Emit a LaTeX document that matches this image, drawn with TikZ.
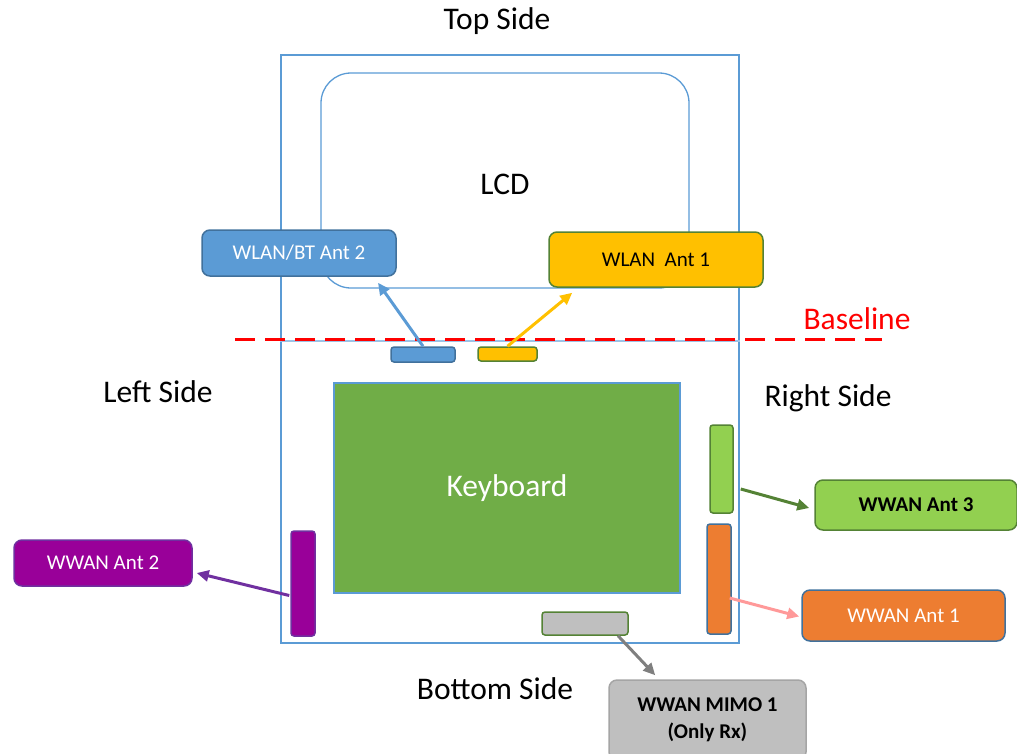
\documentclass[tikz,border=0pt]{standalone}
\usepackage{fontspec}
\setmainfont{Carlito}
\usetikzlibrary{shapes}
\usetikzlibrary{arrows.meta}
\usetikzlibrary{calc}
\definecolor{msblue}{HTML}{5B9BD5}
\definecolor{msdblue}{HTML}{41719C}
\definecolor{ltblue}{HTML}{9DC3E6}
\definecolor{kbgreen}{HTML}{70AD47}
\definecolor{dkgreen}{HTML}{548235}
\definecolor{ltgreen}{HTML}{92D050}
\definecolor{msyellow}{HTML}{FFC000}
\definecolor{mspurple}{HTML}{990099}
\definecolor{violet}{HTML}{7030A0}
\definecolor{msorange}{HTML}{ED7D31}
\definecolor{msgray}{HTML}{BFBFBF}
\definecolor{dkgray}{HTML}{7F7F7F}
\definecolor{pink}{HTML}{FF9999}
\tikzset{
	ant_box/.style = {rectangle, rounded corners=8pt, line width=1.5pt,
		inner sep=0pt, align=center, font=\fontsize{21}{27}\selectfont},
	ant_bar/.style = {rectangle, rounded corners=3pt, line width=1.5pt,
		inner sep=0pt},% antenne sur le chassis
	side_lbl/.style = {inner sep=0pt, font=\fontsize{31.5}{36}\selectfont},
	link/.style = {->, line width=3pt},
	base_line/.style = {red, line width=3pt, dash pattern=on 20pt off 10pt}
}
\begin{document}
\begin{tikzpicture}[x=1pt,y=-1pt,>={Triangle[length=12pt,width=11pt]}]
	\useasboundingbox (0,0) rectangle (1017,753);
	% chassis et ecran
	\node[draw=msblue, line width=1.3pt, inner sep=0pt,
		minimum width=458, minimum height=588] (frame) at (510,349) {};
	\node[draw=msblue, line width=1.3pt, rounded corners=30pt, inner sep=0pt,
		minimum width=368, minimum height=215] (lcd) at (505,180.5) {};
	\node[side_lbl] (lcdtxt) at (505,184) {LCD};
	\coordinate (hinge) at (0,341);
	\draw[ltblue, line width=1.5pt] (frame.west |- hinge) -- (frame.east |- hinge);
	\node[draw=msblue, fill=kbgreen, line width=1.5pt, inner sep=0pt,
		minimum width=346, minimum height=210, text=white,
		font=\fontsize{31.5}{36}\selectfont] (kbd) at (507,488) {Keyboard};
	% cotes
	\node[side_lbl] (top) at (497,21) {Top Side};
	\node[side_lbl] (left) at (158,392) {Left Side};
	\node[side_lbl] (right) at (828,398) {Right Side};
	\node[side_lbl] (bottom) at (495,689) {Bottom Side};
	\node[side_lbl, text=red] (base) at (857,319) {Baseline};
	\coordinate (baseL) at (235,339);
	\coordinate (baseR) at (882,339);
	\draw[base_line] (baseL) -- (baseR);
	% antennes
	\node[ant_bar, fill=msblue, draw=msdblue, minimum width=64, minimum height=15] (antBT) at (423,354.5) {};
	\node[ant_bar, fill=msyellow, draw=dkgreen, minimum width=59, minimum height=14] (antWL) at (507.5,354) {};
	\node[ant_bar, fill=mspurple, draw=violet, minimum width=24, minimum height=105] (antW2) at (303,583.5) {};
	\node[ant_bar, fill=ltgreen, draw=dkgreen, minimum width=23, minimum height=88] (antW3) at (721.5,469) {};
	\node[ant_bar, fill=msorange, draw=msdblue, minimum width=24, minimum height=110] (antW1) at (719,579) {};
	\node[ant_bar, fill=msgray, draw=dkgreen, minimum width=86, minimum height=23] (antMM) at (585,623.5) {};
	% etiquettes
	\node[ant_box, fill=msblue, draw=msdblue, text=white,
		minimum width=194, minimum height=46] (boxBT) at (299,253) {WLAN/BT Ant 2};
	\node[ant_box, fill=msyellow, draw=dkgreen,
		minimum width=214, minimum height=55] (boxWL) at (656,259.5) {WLAN\ \ Ant 1};
	\node[ant_box, fill=mspurple, draw=violet, text=white,
		minimum width=178, minimum height=46] (boxW2) at (103,563) {WWAN Ant 2};
	\node[ant_box, fill=ltgreen, draw=dkgreen, font=\fontsize{21}{27}\selectfont\bfseries,
		minimum width=202, minimum height=50] (boxW3) at (916,505) {WWAN Ant 3};
	\node[ant_box, fill=msorange, draw=msdblue, text=white,
		minimum width=203, minimum height=51] (boxW1) at (903.5,615.5) {WWAN Ant 1};
	\node[ant_box, fill=msgray, draw=dkgray!70, font=\fontsize{21}{27}\selectfont\bfseries,
		minimum width=197, minimum height=80] (boxMM) at (707.5,720) {WWAN MIMO 1\\(Only Rx)};
	% fleches
	\draw[link, msblue] (antBT.north) -- ($(boxBT.south)+(79,6)$);
	\draw[link, msyellow] (antWL.north) -- ($(boxWL.south west)+(24,5)$);
	\draw[link, violet] ($(antW2.west)+(-1,12)$) -- ($(boxW2.east)+(4,10)$);
	\draw[link, dkgreen] ($(antW3.east)+(7,20)$) -- ($(boxW3.west)+(-5,3)$);
	\draw[link, pink] ($(antW1.east)+(-2,19)$) -- ($(boxW1.west)+(-2,1)$);
	\draw[link, dkgray] ($(antMM.south)+(33,0)$) -- ($(boxMM.north west)+(47,-4)$);
\end{tikzpicture}
\end{document}
